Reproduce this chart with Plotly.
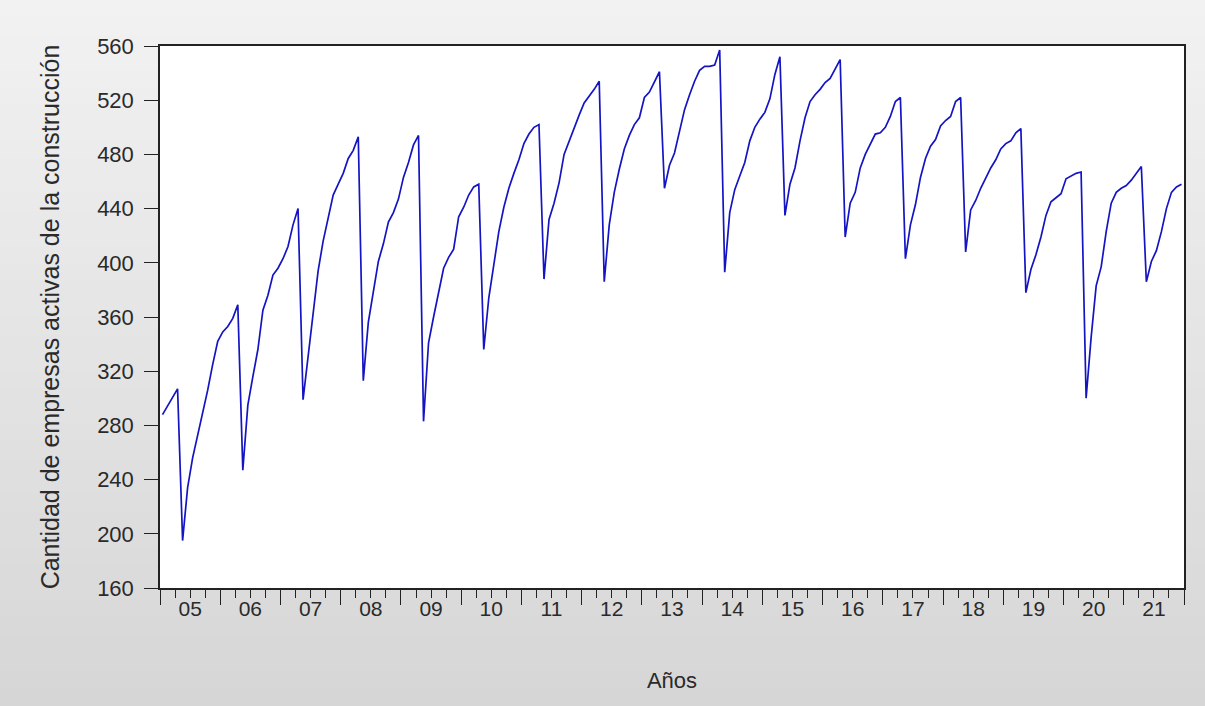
import numpy as np
import plotly.graph_objects as go

# ---- data (monthly, Jan 2005 .. Dec 2021) ----
start_year = 2005
end_year = 2021
values = [
    288, 294, 300, 307, 195, 234, 256, 272, 288, 306, 325, 342,
    349, 353, 359, 369, 247, 295, 316, 336, 365, 376, 391, 396,
    403, 412, 428, 440, 299, 331, 361, 394, 416, 433, 450, 458,
    466, 477, 483, 493, 313, 356, 379, 401, 414, 430, 437, 447,
    463, 474, 487, 494, 283, 341, 360, 379, 396, 404, 410, 434,
    441, 450, 456, 458, 336, 374, 400, 423, 441, 455, 466, 476,
    488, 495, 500, 502, 388, 432, 444, 459, 480, 490, 499, 509,
    518, 523, 528, 534, 386, 428, 452, 469, 484, 494, 502, 507,
    522, 526, 533, 541, 455, 472, 481, 498, 513, 524, 534, 542,
    545, 545, 546, 557, 393, 437, 454, 464, 474, 490, 500, 506,
    511, 521, 539, 552, 435, 458, 470, 490, 507, 519, 524, 528,
    533, 536, 543, 550, 419, 444, 452, 470, 480, 487, 495, 496,
    500, 508, 519, 522, 403, 428, 443, 463, 477, 486, 491, 501,
    505, 508, 519, 522, 408, 439, 446, 455, 463, 470, 476, 484,
    488, 490, 496, 499, 378, 395, 406, 419, 435, 445, 448, 451,
    462, 464, 466, 467, 300, 345, 383, 397, 423, 444, 452, 455,
    457, 461, 466, 471, 386, 401, 409, 423, 440, 452, 456, 458,
]
year_labels = ["05", "06", "07", "08", "09", "10", "11", "12", "13",
               "14", "15", "16", "17", "18", "19", "20", "21"]
y_ticks = [160, 200, 240, 280, 320, 360, 400, 440, 480, 520, 560]

y_title = "Cantidad de empresas activas de la construcción"
x_title = "Años"

# time index: each monthly observation at the middle of its month
t = start_year + (np.arange(len(values)) + 0.5) / 12.0
year_bounds = list(range(start_year, end_year + 2))
quarter_ticks = [y + q / 4 for y in range(start_year, end_year + 1) for q in (1, 2, 3)]
label_pos = [y + 0.5 for y in range(start_year, end_year + 1)]

# ---- layout geometry ----
W, H = 1205, 706
ML, MR, MT, MB = 160, 21, 46, 118
pw, ph = W - ML - MR, H - MT - MB

FONT = "Liberation Sans, Arial, sans-serif"
TXT = "#2a2a2a"

fig = go.Figure()
fig.add_trace(go.Scatter(
    x=t, y=values, mode="lines",
    line=dict(color="rgb(20,20,195)", width=1.7),
    showlegend=False, hoverinfo="x+y",
))
# helper trace so the label axis exists
fig.add_trace(go.Scatter(
    x=[t[0]], y=[values[0]], xaxis="x2", mode="lines",
    line=dict(color="rgba(0,0,0,0)"), showlegend=False, hoverinfo="skip",
))

# background gradient (light grey at top to darker at bottom)
shapes = []
nb = 40
x0p, x1p = -ML / pw - 0.01, 1 + MR / pw + 0.01
for k in range(nb):
    fy0 = k / nb
    fy1 = (k + 1) / nb
    g = int(round(242 - (242 - 214) * (k + 0.5) / nb))
    yy0 = 1 + MT / ph - fy1 * H / ph
    yy1 = 1 + MT / ph - fy0 * H / ph
    shapes.append(dict(type="rect", xref="paper", yref="paper",
                       x0=x0p, x1=x1p, y0=yy0 - 0.002, y1=yy1 + 0.002,
                       fillcolor=f"rgb({g},{g},{g})", line=dict(width=0),
                       layer="below"))
shapes.append(dict(type="rect", xref="paper", yref="paper", x0=0, x1=1, y0=0, y1=1,
                   fillcolor="white", line=dict(width=0), layer="below"))

fig.update_layout(
    width=W, height=H,
    margin=dict(l=ML, r=MR, t=MT, b=MB, autoexpand=False),
    paper_bgcolor="rgb(228,228,228)",
    plot_bgcolor="white",
    shapes=shapes,
    font=dict(family=FONT, color=TXT, size=22),
    xaxis=dict(
        range=[start_year, end_year + 1],
        tickmode="array", tickvals=year_bounds, showticklabels=False,
        ticks="outside", ticklen=15, tickwidth=1.3, tickcolor="#222",
        minor=dict(tickmode="array", tickvals=quarter_ticks, ticks="outside",
                   ticklen=8, tickwidth=1.3, tickcolor="#222", showgrid=False),
        showgrid=False, zeroline=False,
        showline=True, linecolor="#222", linewidth=1.5, mirror=True,
    ),
    xaxis2=dict(
        overlaying="x", anchor="y", side="bottom",
        range=[start_year, end_year + 1],
        tickmode="array", tickvals=label_pos, ticktext=year_labels,
        ticks="outside", ticklen=2, tickcolor="rgba(0,0,0,0)",
        tickfont=dict(size=21, family=FONT, color=TXT),
        showgrid=False, zeroline=False, showline=False,
        title=dict(text=x_title, font=dict(size=22, family=FONT, color=TXT), standoff=53),
    ),
    yaxis=dict(
        range=[160, 560],
        tickmode="array", tickvals=y_ticks,
        ticks="outside", ticklen=14, tickwidth=1.3, tickcolor="#222",
        tickfont=dict(size=22, family=FONT, color=TXT),
        ticklabelstandoff=6,
        showgrid=False, zeroline=False,
        showline=True, linecolor="#222", linewidth=1.5, mirror=True,
        title=dict(text=y_title, font=dict(size=25, family=FONT, color=TXT), standoff=30),
    ),
)

fig.write_html(
    "out.html",
    config={"displayModeBar": False},
    post_script="document.body.style.margin='0';document.body.style.padding='0';",
)
